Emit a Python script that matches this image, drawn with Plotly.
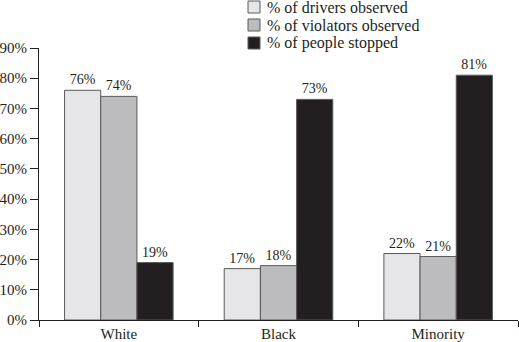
import plotly.graph_objects as go

categories = ["White", "Black", "Minority"]
drivers_observed = [76, 17, 22]
violators_observed = [74, 18, 21]
people_stopped = [19, 73, 81]
y_ticks = [0, 10, 20, 30, 40, 50, 60, 70, 80, 90]

series = [
    ("% of drivers observed", drivers_observed, "#e6e6e8"),
    ("% of violators observed", violators_observed, "#bcbcbe"),
    ("% of people stopped", people_stopped, "#231f20"),
]

FONT = "Liberation Serif, Times New Roman, serif"
INK = "#231f20"
EDGE = "#5a5a5a"

W, H = 519, 342
M = dict(l=39, r=1, t=48, b=22)

fig = go.Figure()
for name, vals, color in series:
    fig.add_trace(go.Bar(
        name=name,
        x=categories,
        y=vals,
        marker=dict(color=color, line=dict(color=EDGE, width=1)),
        text=[f"{v}%" for v in vals],
        textposition="outside",
        textfont=dict(family=FONT, size=14, color=INK),
        cliponaxis=False,
        showlegend=False,
    ))

# Key above the plot area: swatch + label per series, placed in pixel terms
key_left_px = 248
key_row0_px = 7
key_row_step = 18
swatch = 12
for i, (name, _, color) in enumerate(series):
    cy = key_row0_px + i * key_row_step
    fig.add_shape(
        type="rect", xref="paper", yref="paper",
        x0=(key_left_px - M["l"]) / (W - M["l"] - M["r"]),
        x1=(key_left_px + swatch - M["l"]) / (W - M["l"] - M["r"]),
        y0=(H - M["b"] - (cy + swatch / 2)) / (H - M["t"] - M["b"]),
        y1=(H - M["b"] - (cy - swatch / 2)) / (H - M["t"] - M["b"]),
        fillcolor=color, line=dict(color=EDGE, width=1),
    )
    fig.add_annotation(
        xref="paper", yref="paper",
        x=(key_left_px + swatch + 5 - M["l"]) / (W - M["l"] - M["r"]),
        y=(H - M["b"] - cy) / (H - M["t"] - M["b"]),
        xanchor="left", yanchor="middle",
        text=name, showarrow=False,
        font=dict(family=FONT, size=16, color=INK),
    )

fig.update_layout(
    width=W,
    height=H,
    margin=M,
    barmode="group",
    bargap=0.32,
    bargroupgap=0,
    plot_bgcolor="white",
    paper_bgcolor="white",
    font=dict(family=FONT, size=15, color=INK),
    showlegend=False,
)

fig.update_xaxes(
    type="category",
    automargin=False,
    showline=True, linecolor=INK, linewidth=1,
    ticks="outside", ticklen=6, tickcolor=INK,
    tickson="boundaries",
    showgrid=False,
    tickfont=dict(family=FONT, size=15, color=INK),
)
fig.update_yaxes(
    range=[0, 90],
    automargin=False,
    tickvals=y_ticks,
    ticktext=[f"{t}%" for t in y_ticks],
    showline=True, linecolor=INK, linewidth=1,
    ticks="outside", ticklen=8, tickcolor=INK,
    showgrid=False, zeroline=False,
    tickfont=dict(family=FONT, size=15, color=INK),
)

fig.write_html("out.html")
